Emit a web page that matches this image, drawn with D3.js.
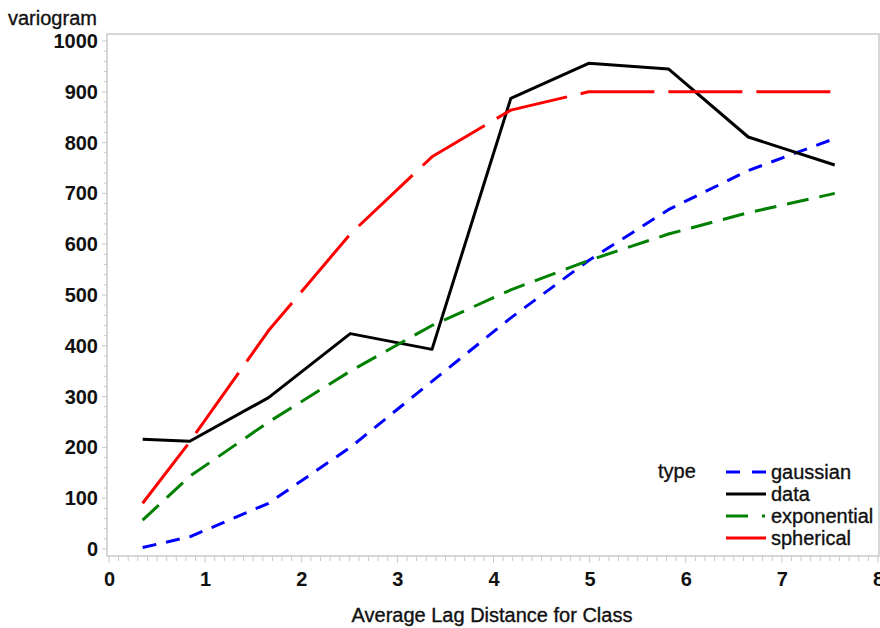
<!DOCTYPE html>
<html>
<head>
<meta charset="utf-8">
<script src="https://cdn.jsdelivr.net/npm/d3@7"></script>
<style>
  body { margin: 0; background: #fff; }
  text { font-family: "Liberation Sans", Arial, sans-serif; fill: #111; }
  .lbl { stroke: #111; stroke-width: 0.35px; }
</style>
</head>
<body>
<script>
// lag classes (average distance)
const lags = [0.35, 0.84, 1.66, 2.51, 3.36, 4.18, 4.99, 5.82, 6.65, 7.55];

// variogram values per type
const gaussian    = [3, 24, 90, 200, 330, 455, 568, 668, 745, 808];
const data        = [216, 212, 298, 424, 393, 887, 956, 945, 811, 756];
const exponential = [57, 143, 250, 350, 440, 510, 568, 620, 662, 700];
const spherical   = [90, 211, 430, 620, 772, 864, 900, 900, 900, 900];

const xTicks = [0, 1, 2, 3, 4, 5, 6, 7, 8];
const yTicks = [0, 100, 200, 300, 400, 500, 600, 700, 800, 900, 1000];

const series = [
  { name: "gaussian",    values: gaussian,    color: "#0000ff", dash: "14,10" },
  { name: "data",        values: data,        color: "#000000", dash: null },
  { name: "exponential", values: exponential, color: "#008000", dash: "22,11" },
  { name: "spherical",   values: spherical,   color: "#ff0000", dash: "74,14" }
];

const width = 880, height = 628;
const svg = d3.select("body").append("svg")
  .attr("width", width)
  .attr("height", height);

const x = d3.scaleLinear().domain([0, 8]).range([109, 878]);
const y = d3.scaleLinear().domain([0, 1000]).range([549, 41]);

// frame
svg.append("rect")
  .attr("x", 107).attr("y", 34)
  .attr("width", 879 - 107).attr("height", 556 - 34)
  .attr("fill", "none")
  .attr("stroke", "#c6cbcb")
  .attr("stroke-width", 1.5);

// minor ticks
const yMinor = d3.range(0, 1001, 20);
svg.append("g").selectAll("line")
  .data(yMinor)
  .join("line")
  .attr("x1", d => d % 100 === 0 ? 102 : 104).attr("x2", 107)
  .attr("y1", d => y(d)).attr("y2", d => y(d))
  .attr("stroke", "#c6cbcb");

const xMinor = d3.range(0, 80.5, 1).map(d => d / 10);
svg.append("g").selectAll("line")
  .data(xMinor)
  .join("line")
  .attr("x1", d => x(d)).attr("x2", d => x(d))
  .attr("y1", 556)
  .attr("y2", (d, i) => i % 10 === 0 ? 563 : 561)
  .attr("stroke", "#c6cbcb");

// axes (labels only, lines drawn above)
const yAxis = svg.append("g")
  .attr("transform", "translate(102,0)")
  .call(d3.axisLeft(y).tickValues(yTicks).tickFormat(d3.format("d")).tickSize(0).tickPadding(4));
yAxis.select(".domain").remove();
yAxis.selectAll("text")
  .attr("font-size", 20)
  .attr("font-weight", "bold")
  .attr("font-family", "Liberation Sans, Arial, sans-serif")
  .attr("fill", "#222");

const xAxis = svg.append("g")
  .attr("transform", "translate(0,563)")
  .call(d3.axisBottom(x).tickValues(xTicks).tickSize(0).tickPadding(9));
xAxis.select(".domain").remove();
xAxis.selectAll("text")
  .attr("font-size", 20)
  .attr("font-weight", "bold")
  .attr("font-family", "Liberation Sans, Arial, sans-serif")
  .attr("fill", "#222");

// axis titles
svg.append("text")
  .attr("class", "lbl")
  .attr("x", 8).attr("y", 25)
  .attr("font-size", 20)
  .text("variogram");

svg.append("text")
  .attr("class", "lbl")
  .attr("x", 492).attr("y", 622)
  .attr("text-anchor", "middle")
  .attr("font-size", 20)
  .text("Average Lag Distance for Class");

// lines
const line = d3.line()
  .x((d, i) => x(lags[i]))
  .y(d => y(d));

svg.append("g").selectAll("path")
  .data(series)
  .join("path")
  .attr("d", d => line(d.values))
  .attr("fill", "none")
  .attr("stroke", d => d.color)
  .attr("stroke-width", 3)
  .attr("stroke-dasharray", d => d.dash)
  .attr("stroke-linejoin", "round");

// legend
const legend = svg.append("g");
legend.append("text")
  .attr("class", "lbl")
  .attr("x", 658).attr("y", 478)
  .attr("font-size", 20)
  .text("type");

const legendDash = { gaussian: "14,12", data: null, exponential: "22,14,3,20", spherical: null };
const rows = legend.selectAll("g.row")
  .data(series)
  .join("g")
  .attr("class", "row")
  .attr("transform", (d, i) => `translate(0,${472 + i * 22})`);

rows.append("line")
  .attr("x1", 726).attr("x2", 766)
  .attr("stroke", d => d.color)
  .attr("stroke-width", 3)
  .attr("stroke-dasharray", d => legendDash[d.name]);

rows.append("text")
  .attr("class", "lbl")
  .attr("x", 771).attr("y", 7)
  .attr("font-size", 20)
  .text(d => d.name);
</script>
</body>
</html>
